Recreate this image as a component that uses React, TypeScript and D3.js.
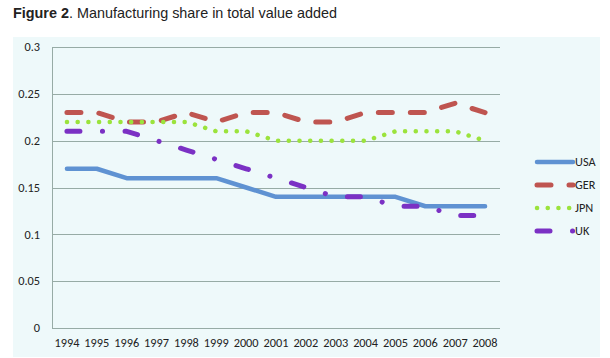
import React, { useEffect, useRef } from "react";
import * as d3 from "d3";

const years = ["1994", "1995", "1996", "1997", "1998", "1999", "2000", "2001", "2002", "2003", "2004", "2005", "2006", "2007", "2008"];
const usa = [0.17, 0.17, 0.16, 0.16, 0.16, 0.16, 0.15, 0.14, 0.14, 0.14, 0.14, 0.14, 0.13, 0.13, 0.13];
const ger = [0.23, 0.23, 0.22, 0.22, 0.23, 0.22, 0.23, 0.23, 0.22, 0.22, 0.23, 0.23, 0.23, 0.24, 0.23];
const jpn = [0.22, 0.22, 0.22, 0.22, 0.22, 0.21, 0.21, 0.2, 0.2, 0.2, 0.2, 0.21, 0.21, 0.21, 0.2];
const uk = [0.21, 0.21, 0.21, 0.2, 0.19, 0.18, 0.17, 0.16, 0.15, 0.14, 0.14, 0.13, 0.13, 0.12, 0.12];
const yTicks = [0, 0.05, 0.1, 0.15, 0.2, 0.25, 0.3];

const series = [
  { name: "USA", values: usa, color: "#5F92D2", width: 4.5, dash: null },
  { name: "GER", values: ger, color: "#BF5550", width: 5, dash: "14,18" },
  { name: "JPN", values: jpn, color: "#9BE33C", width: 4.5, dash: "0.1,10.6" },
  { name: "UK", values: uk, color: "#7B31C4", width: 5, dash: "13,22.5,0.1,22.5" },
];

export default function App() {
  const ref = useRef<SVGSVGElement>(null);

  useEffect(() => {
    const svg = d3.select(ref.current);
    svg.selectAll("*").remove();

    // panel
    svg.append("rect").attr("x", 13).attr("y", 37).attr("width", 587).attr("height", 320).attr("fill", "#EEF9FA");

    // title
    const title = svg.append("text").attr("x", 13).attr("y", 18)
      .style("font-family", "'Liberation Sans', Arial, sans-serif").style("font-size", "14.4px").attr("fill", "#222");
    title.append("tspan").attr("font-weight", "bold").text("Figure 2");
    title.append("tspan").text(". Manufacturing share in total value added");

    const left = 52, right = 500, top = 47, bottom = 328;
    const x = d3.scaleBand().domain(years).range([left, right]);
    const y = d3.scaleLinear().domain([0, 0.3]).range([bottom, top]);

    const g = svg.append("g").style("font-family", "Carlito, Lato, 'Open Sans', sans-serif").style("font-size", "12.3px");

    // gridlines
    g.selectAll("line.grid").data(yTicks).enter().append("line")
      .attr("x1", left).attr("x2", right)
      .attr("y1", (d) => Math.round(y(d)) + 0.5).attr("y2", (d) => Math.round(y(d)) + 0.5)
      .attr("stroke", "#97ABA5").attr("stroke-width", 1);
    g.append("line").attr("x1", left + 0.5).attr("x2", left + 0.5).attr("y1", top).attr("y2", bottom + 0.5)
      .attr("stroke", "#97ABA5");

    // y labels
    g.selectAll("text.yl").data(yTicks).enter().append("text")
      .attr("x", 40).attr("y", (d) => y(d)).attr("dy", "0.35em").attr("text-anchor", "end")
      .attr("fill", "#222").text((d) => String(d));

    // x labels
    g.selectAll("text.xl").data(years).enter().append("text")
      .attr("x", (d) => (x(d) as number) + x.bandwidth() / 2).attr("y", 347)
      .attr("text-anchor", "middle").attr("fill", "#222").text((d) => d);

    const line = d3.line<number>()
      .x((_, i) => (x(years[i]) as number) + x.bandwidth() / 2)
      .y((d) => y(d));

    series.forEach((s) => {
      g.append("path").attr("d", line(s.values) as string)
        .attr("fill", "none").attr("stroke", s.color).attr("stroke-width", s.width)
        .attr("stroke-linecap", "round").attr("stroke-linejoin", "round")
        .attr("stroke-dasharray", s.dash);
    });

    // legend
    const lg = g.selectAll("g.leg").data(series).enter().append("g")
      .attr("transform", (_, i) => `translate(535,${162 + i * 23})`);
    lg.append("line").attr("x1", 2).attr("x2", 38).attr("y1", 0).attr("y2", 0)
      .attr("stroke", (d) => d.color).attr("stroke-width", (d) => d.width)
      .attr("stroke-linecap", "round").attr("stroke-dasharray", (d) => d.dash);
    lg.append("text").attr("x", 40).attr("y", 0).attr("dy", "0.35em").attr("fill", "#222").text((d) => d.name);
  }, []);

  return (
    <svg ref={ref} width={610} height={358} style={{ position: "absolute", left: 0, top: 0, background: "#fff" }} />
  );
}
